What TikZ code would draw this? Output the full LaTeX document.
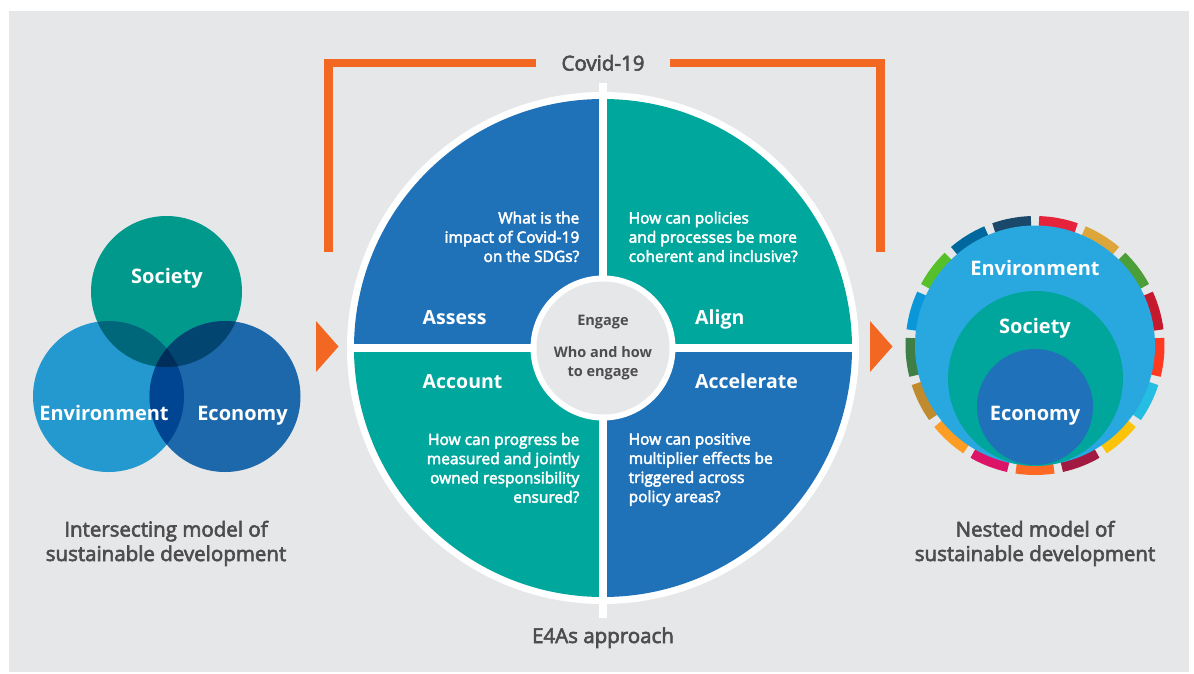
\documentclass[tikz,border=0pt]{standalone}
\usepackage{fontspec}
\setmainfont{Open Sans}
\newfontfamily\medfont[FakeBold=3]{Open Sans}
\usetikzlibrary{positioning}

\definecolor{bggray}{HTML}{E6E7E8}
\definecolor{covorange}{HTML}{F26822}
\definecolor{txtgray}{HTML}{4D4D4F}
\definecolor{qblue}{HTML}{1F71B8}
\definecolor{qteal}{HTML}{00A79D}
\definecolor{vsoc}{HTML}{00998B}
\definecolor{venv}{HTML}{2399CF}
\definecolor{veco}{HTML}{1D68AA}
\definecolor{vsocenv}{HTML}{00677A}
\definecolor{vsoceco}{HTML}{034571}
\definecolor{venveco}{HTML}{004592}
\definecolor{vall}{HTML}{002D5A}
\definecolor{nenv}{HTML}{29A8E0}
\definecolor{nsoc}{HTML}{00A69C}
\definecolor{neco}{HTML}{1F72BA}
\definecolor{sdg1}{HTML}{E5243B}
\definecolor{sdg2}{HTML}{DDA63A}
\definecolor{sdg3}{HTML}{4C9F38}
\definecolor{sdg4}{HTML}{C5192D}
\definecolor{sdg5}{HTML}{FF3A21}
\definecolor{sdg6}{HTML}{26BDE2}
\definecolor{sdg7}{HTML}{FCC30B}
\definecolor{sdg8}{HTML}{A21942}
\definecolor{sdg9}{HTML}{FD6925}
\definecolor{sdg10}{HTML}{DD1367}
\definecolor{sdg11}{HTML}{FD9D24}
\definecolor{sdg12}{HTML}{BF8B2E}
\definecolor{sdg13}{HTML}{3F7E44}
\definecolor{sdg14}{HTML}{0A97D9}
\definecolor{sdg15}{HTML}{56C02B}
\definecolor{sdg16}{HTML}{00689D}
\definecolor{sdg17}{HTML}{19486A}

\begin{document}
\begin{tikzpicture} [
  x=1pt, y=-1pt,
  every node/.style={inner sep=0pt},
  venn/.style={circle,minimum size=151pt},
  whitelbl/.style={text=white,anchor=base,font=\bfseries\fontsize{20}{24}\selectfont},
  quadlbl/.style={text=white,anchor=base west,font=\bfseries\fontsize{19.5}{24}\selectfont},
  quest/.style={text=white,font=\medfont\fontsize{15.5}{19.2}\selectfont},
  caption/.style={text=txtgray,align=center,anchor=base,font=\medfont\fontsize{20.5}{24.5}\selectfont},
  hubtxt/.style={text=txtgray,align=center,font=\bfseries\fontsize{14.5}{19}\selectfont},
  bracket/.style={draw=covorange,line width=8.5pt},
  divider/.style={draw=white,line width=7.5pt},
  sdgseg/.style={line width=12.5pt},
  arrowhead/.style={fill=covorange}
  ]
  \useasboundingbox (0,0) rectangle (1194,673);
  \fill[white] (0,0) rectangle (1194,673);
  \fill[bggray] (9,11) rectangle (1189,672);

  % intersecting model
  \node [venn,fill=vsoc] (soc) at (166.5,291.5) {};
  \node [venn,fill=venv] (env) at (108.5,396.5) {};
  \node [venn,fill=veco] (eco) at (225,396.5) {};
  \begin{scope}
    \clip (env) circle[radius=75.5];
    \fill[venveco] (eco) circle[radius=75.5];
  \end{scope}
  \begin{scope}
    \clip (soc) circle[radius=75.5];
    \fill[vsocenv] (env) circle[radius=75.5];
    \fill[vsoceco] (eco) circle[radius=75.5];
    \clip (env) circle[radius=75.5];
    \fill[vall] (eco) circle[radius=75.5];
  \end{scope}
  \node [whitelbl] (tsoc) at (167,283) {Society};
  \node [whitelbl] (tenv) at (104,420) {Environment};
  \node [whitelbl] (teco) at (242.5,420) {Economy};
  \node [caption] (lcap) at (166,561) {Intersecting model of\\sustainable development};

  % E4As wheel
  \coordinate (hub) at (603,348);
  \fill[white] (hub) circle[radius=256];
  \begin{scope}
    \clip (hub) circle[radius=249];
    \fill[qblue] (hub) rectangle ++(-250,-250);
    \fill[qteal] (hub) rectangle ++(250,-250);
    \fill[qteal] (hub) rectangle ++(-250,250);
    \fill[qblue] (hub) rectangle ++(250,250);
  \end{scope}
  \draw[divider] (hub) ++(0,-265) -- ++(0,535);
  \draw[divider] (hub) ++(-252,0) -- ++(504,0);
  \node [circle,fill=white,minimum size=145pt] (hubring) at (hub) {};
  \node [circle,fill=bggray,minimum size=133pt] (hubcore) at (hub) {};

  \node [hubtxt,anchor=base] (engage) at (603,325) {Engage};
  \node [hubtxt,anchor=north] (engageq) at (603,346) {Who and how\\to engage};

  \node [quest,align=right,anchor=north east] (assessq) at (579.5,211.5) {What is the\\impact of Covid-19\\on the SDGs?};
  \node [quest,align=left,anchor=north west] (alignq) at (628.5,211.5) {How can policies\\and processes be more\\coherent and inclusive?};
  \node [quest,align=right,anchor=north east] (accountq) at (579.5,433) {How can progress be\\measured and jointly\\owned responsibility\\ensured?};
  \node [quest,align=left,anchor=north west] (accelq) at (628.5,433) {How can positive\\multiplier effects be\\triggered across\\policy areas?};

  \node [quadlbl] (assess) at (422.5,324.5) {Assess};
  \node [quadlbl] (align) at (695,324.5) {Align};
  \node [quadlbl] (account) at (422.5,388) {Account};
  \node [quadlbl] (accel) at (695,388) {Accelerate};

  \node [caption] (e4as) at (603,643) {E4As approach};

  % covid bracket
  \node [caption,inner xsep=25pt] (covid) at (603,70.5) {Covid-19};
  \coordinate (lb) at (328.5,252);
  \coordinate (rb) at (880.5,252);
  \draw[bracket] (lb) |- (covid);
  \draw[bracket] (rb) |- (covid);

  \fill[arrowhead] (316,321) -- (338.5,346.5) -- (316,372) -- cycle;
  \fill[arrowhead] (870,321) -- (892.5,346.5) -- (870,372) -- cycle;

  % nested model
  \coordinate (nest) at (1035,345.5);
  \foreach \i in {1,...,17} {
    \pgfmathsetmacro\a{-90+(\i-1)*360/17+1.85}
    \draw[sdgseg,sdg\i] (nest) ++(\a:123.25) arc[start angle=\a,delta angle=17.48,radius=123.25];
  }
  \node [circle,fill=nenv,minimum size=240pt] (nenv) at (nest) {};
  \node [circle,fill=nsoc,minimum size=175pt] (nsoc) at (1035.5,378.5) {};
  \node [circle,fill=neco,minimum size=116pt] (neco) at (1035,407) {};
  \node [whitelbl] (tnenv) at (1035,275) {Environment};
  \node [whitelbl] (tnsoc) at (1035,333) {Society};
  \node [whitelbl] (tneco) at (1035,420) {Economy};
  \node [caption] (rcap) at (1035,561) {Nested model of\\sustainable development};
\end{tikzpicture}
\end{document}
